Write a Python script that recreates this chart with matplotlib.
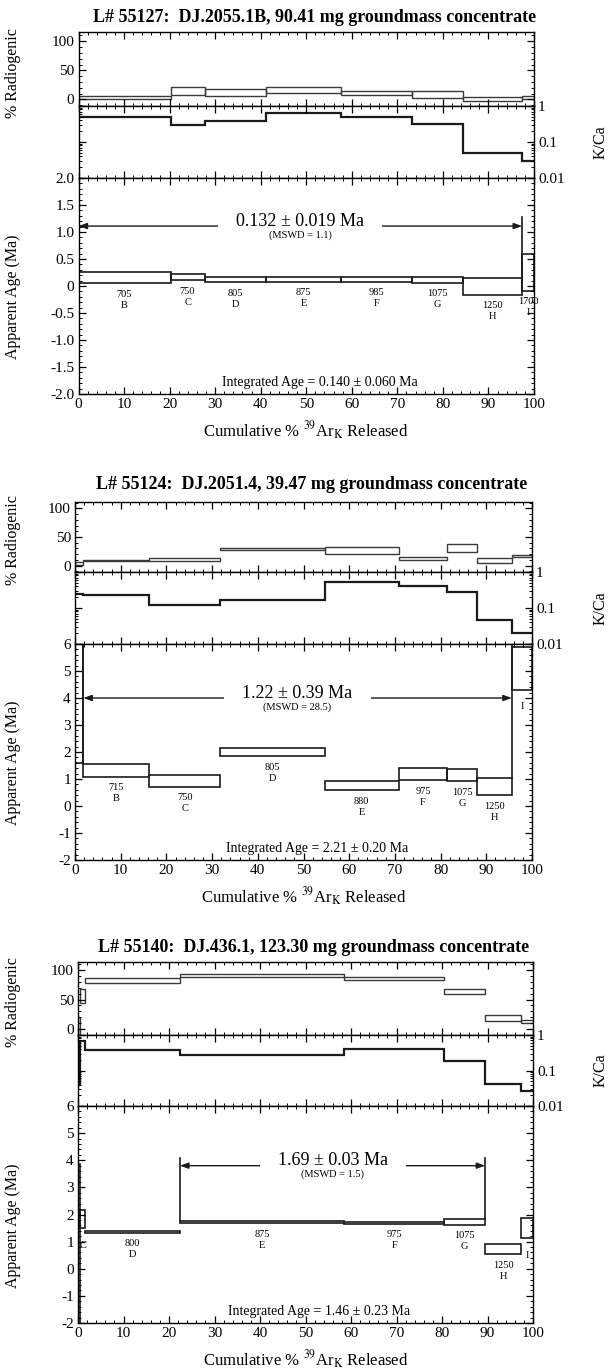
import matplotlib
matplotlib.use('Agg')
import matplotlib.pyplot as plt
import numpy as np
from matplotlib.ticker import MultipleLocator, FixedLocator, FuncFormatter, LogLocator, NullFormatter

plt.rcParams['font.family'] = ['Liberation Serif', 'DejaVu Serif']
plt.rcParams['mathtext.fontset'] = 'stix'
plt.rcParams['axes.unicode_minus'] = False

# ---- L# 55127 ----
title1 = 'L# 55127:  DJ.2055.1B, 90.41 mg groundmass concentrate'
edges1 = [0, 20.2, 27.7, 41.1, 57.7, 73.2, 84.5, 97.4, 100]
steps1 = ['B', 'C', 'D', 'E', 'F', 'G', 'H', 'I']
temps1 = ['705', '750', '805', '875', '985', '1075', '1250', '1700']
rad_lo1 = [0, 7.6, 5.8, 10.5, 7.6, 1.8, -3, 0]
rad_hi1 = [6, 21.6, 17.5, 20.5, 15.2, 13.5, 4, 6]
kca1 = [0.48, 0.30, 0.38, 0.65, 0.51, 0.32, 0.05, 0.03]
age_lo1 = [0.05, 0.11, 0.07, 0.08, 0.08, 0.06, -0.16, -0.09]
age_hi1 = [0.25, 0.22, 0.17, 0.17, 0.16, 0.17, 0.14, 0.60]
plateau1 = ('B', 'H', 1.11, 1.28)   # first step, last step, arrow level, marker top
plateau_txt1 = '0.132 ± 0.019 Ma'
mswd1 = '(MSWD = 1.1)'
integ1 = 'Integrated Age = 0.140 ± 0.060 Ma'

# ---- L# 55124 ----
title2 = 'L# 55124:  DJ.2051.4, 39.47 mg groundmass concentrate'
edges2 = [0, 1.8, 16.3, 31.8, 54.7, 70.8, 81.5, 87.9, 95.6, 100]
steps2 = ['A', 'B', 'C', 'D', 'E', 'F', 'G', 'H', 'I']
temps2 = ['', '715', '750', '805', '880', '975', '1075', '1250', '']
rad_lo2 = [2, 7.4, 9, 27.4, 20, 10.3, 23.4, 4.4, 15.5]
rad_hi2 = [6, 10.3, 14, 30, 33, 16, 37, 14, 19.4]
kca2 = [0.25, 0.23, 0.124, 0.17, 0.54, 0.42, 0.27, 0.045, 0.020]
age_lo2 = [1.6, 1.08, 0.72, 1.84, 0.59, 0.96, 0.92, 0.39, 4.3]
age_hi2 = [8.0, 1.55, 1.13, 2.13, 0.92, 1.42, 1.37, 1.03, 5.88]
plateau2 = ('B', 'H', 4.0, 6.5)
plateau_txt2 = '1.22 ± 0.39 Ma'
mswd2 = '(MSWD = 28.5)'
integ2 = 'Integrated Age = 2.21 ± 0.20 Ma'

# ---- L# 55140 ----
title3 = 'L# 55140:  DJ.436.1, 123.30 mg groundmass concentrate'
edges3 = [0, 0.5, 1.6, 22.4, 58.5, 80.5, 89.5, 97.4, 100]
steps3 = ['B', 'C', 'D', 'E', 'F', 'G', 'H', 'I']
temps3 = ['', '', '800', '875', '975', '1075', '1250', '']
rad_lo3 = [-12, 44, 78.6, 88.8, 83, 60, 13.4, 9.5]
rad_hi3 = [20, 67, 87, 92.7, 88.8, 68, 23.5, 16]
kca3 = [0.04, 0.69, 0.37, 0.28, 0.41, 0.19, 0.042, 0.026]
age_lo3 = [-3.0, 1.5, 1.32, 1.67, 1.65, 1.63, 0.53, 1.12]
age_hi3 = [3.85, 2.15, 1.40, 1.77, 1.73, 1.82, 0.93, 1.88]
plateau3 = ('E', 'G', 3.80, 4.09)
plateau_txt3 = '1.69 ± 0.03 Ma'
mswd3 = '(MSWD = 1.5)'
integ3 = 'Integrated Age = 1.46 ± 0.23 Ma'

W, H = 611, 1372
fig = plt.figure(figsize=(W / 100, H / 100), dpi=100)
LC = '#1a1a1a'


def add_ax(x0, x1, y0, y1):
    return fig.add_axes([x0 / W, 1 - y1 / H, (x1 - x0) / W, (y1 - y0) / H])


def style(ax):
    ax.set_xlim(0, 100)
    ax.xaxis.set_major_locator(MultipleLocator(10))
    ax.xaxis.set_minor_locator(MultipleLocator(2))
    ax.tick_params(which='both', direction='in', top=True, right=True,
                   bottom=True, left=True, labelsize=11, pad=3)
    ax.tick_params(which='major', length=5, width=0.9)
    ax.tick_params(which='minor', length=2.5, width=0.7)
    for s in ax.spines.values():
        s.set_linewidth(1.0)


def panel(lay, title, edges, steps, temps, rad_lo, rad_hi, kca, age_lo, age_hi,
          plateau, ptxt, mswd, integ, rad_ylim, age_ylim, age_major, age_minor, fmt):
    x0, x1, t_y, r_top, k_top, a_top, a_bot = lay
    edges = np.array(edges)
    left = edges[:-1]
    width = np.diff(edges)
    mid = left + width / 2

    fig.text((x0 + x1) / 2 / W + 0.014, 1 - t_y / H, title, ha='center', va='center',
             fontsize=13, fontweight='bold')

    # % radiogenic
    ar = add_ax(x0, x1, r_top, k_top)
    style(ar)
    ar.bar(left, np.array(rad_hi) - np.array(rad_lo), width, bottom=rad_lo,
           align='edge', fill=False, edgecolor='#3a3a3a', linewidth=1.0)
    ar.set_ylim(*rad_ylim)
    ar.yaxis.set_major_locator(FixedLocator([0, 50, 100]))
    ar.yaxis.set_minor_locator(MultipleLocator(10))
    ar.tick_params(labelbottom=False)
    ar.set_ylabel('% Radiogenic', fontsize=11.5)
    ar.yaxis.set_label_coords((21 - x0) / (x1 - x0), 0.45)

    # K/Ca
    ak = add_ax(x0, x1, k_top, a_top)
    style(ak)
    ak.stairs(kca, edges, color=LC, linewidth=1.6, baseline=None)
    ak.set_yscale('log')
    ak.set_ylim(0.01, 1)
    ak.yaxis.set_major_locator(FixedLocator([0.01, 0.1, 1]))
    ak.yaxis.set_minor_locator(LogLocator(base=10, subs=np.arange(2, 10)))
    ak.yaxis.set_minor_formatter(NullFormatter())
    ak.yaxis.set_major_formatter(FuncFormatter(lambda v, p: {0.01: '0.01', 0.1: '0.1', 1: '1'}.get(round(v, 2), '')))
    ak.tick_params(labelbottom=False, labelleft=False, labelright=True)
    ak.yaxis.set_label_position('right')
    ak.set_ylabel('K/Ca', fontsize=11.5)
    ak.yaxis.set_label_coords((593 - x0) / (x1 - x0), 0.5)

    # apparent age
    aa = add_ax(x0, x1, a_top, a_bot)
    style(aa)
    lo = np.array(age_lo, dtype=float)
    hi = np.array(age_hi, dtype=float)
    aa.bar(left, hi - lo, width, bottom=lo, align='edge', fill=False,
           edgecolor=LC, linewidth=1.2)
    aa.set_ylim(*age_ylim)
    aa.yaxis.set_major_locator(MultipleLocator(age_major))
    aa.yaxis.set_minor_locator(MultipleLocator(age_minor))
    aa.yaxis.set_major_formatter(FuncFormatter(fmt))
    aa.set_ylabel('Apparent Age (Ma)', fontsize=11.5)
    aa.yaxis.set_label_coords((21 - x0) / (x1 - x0), 0.45)
    aa.set_xlabel(r'Cumulative % $^{39}$Ar$_{\mathrm{K}}$ Released', fontsize=12, labelpad=6)

    # step labels
    for i in range(len(steps)):
        if steps[i] in ('A',) or (steps[i] == 'B' and temps[i] == ''):
            continue
        if temps[i]:
            aa.annotate(temps[i], (mid[i], lo[i]), xytext=(0, -11), textcoords='offset pixels',
                        ha='center', va='center', fontsize=7.5)
            aa.annotate(steps[i], (mid[i], lo[i]), xytext=(0, -22), textcoords='offset pixels',
                        ha='center', va='center', fontsize=7.5)
        else:
            aa.annotate(steps[i], (mid[i], lo[i]), xytext=(0, -17), textcoords='offset pixels',
                        ha='center', va='center', fontsize=7.5)

    # plateau
    i0 = steps.index(plateau[0])
    i1 = steps.index(plateau[1])
    ps, pe, py, ptop = edges[i0], edges[i1 + 1], plateau[2], plateau[3]
    aa.plot([ps, ps], [hi[i0], ptop], color=LC, lw=1.2)
    aa.plot([pe, pe], [hi[i1], ptop], color=LC, lw=1.2)
    aa.annotate('', xy=(ps, py), xytext=(pe, py),
                arrowprops=dict(arrowstyle='<|-|>,head_length=0.5,head_width=0.18',
                                color=LC, lw=1.0, shrinkA=0, shrinkB=0))
    pm = (ps + pe) / 2
    aa.annotate(ptxt, (pm, py), xytext=(0, 5), textcoords='offset pixels', ha='center',
                va='center', fontsize=13, zorder=5,
                bbox=dict(boxstyle='square,pad=1.0', fc='white', ec='none'))
    aa.annotate(mswd, (pm, py), xytext=(0, -9), textcoords='offset pixels', ha='center',
                va='center', fontsize=7.5, zorder=6)
    aa.text(53, 0.055, integ, transform=aa.get_xaxis_transform(), ha='center',
            va='center', fontsize=10)


def fmt1(v, p):
    return '0' if abs(v) < 1e-9 else '%.1f' % v


def fmt2(v, p):
    return '%d' % round(v)


panel((78.5, 534, 18, 32, 106, 178, 394), title1, edges1, steps1, temps1, rad_lo1, rad_hi1,
      kca1, age_lo1, age_hi1, plateau1, plateau_txt1, mswd1, integ1,
      (-11.5, 116), (-2, 2), 0.5, 0.1, fmt1)
panel((75, 532, 485, 502, 572, 644, 860), title2, edges2, steps2, temps2, rad_lo2, rad_hi2,
      kca2, age_lo2, age_hi2, plateau2, plateau_txt2, mswd2, integ2,
      (-11, 111), (-2, 6), 1, 0.2, fmt2)
panel((78, 533, 947, 962, 1035, 1106, 1323), title3, edges3, steps3, temps3, rad_lo3, rad_hi3,
      kca3, age_lo3, age_hi3, plateau3, plateau_txt3, mswd3, integ3,
      (-10, 113.5), (-2, 6), 1, 0.2, fmt2)

fig.savefig('out.png', dpi=100)
